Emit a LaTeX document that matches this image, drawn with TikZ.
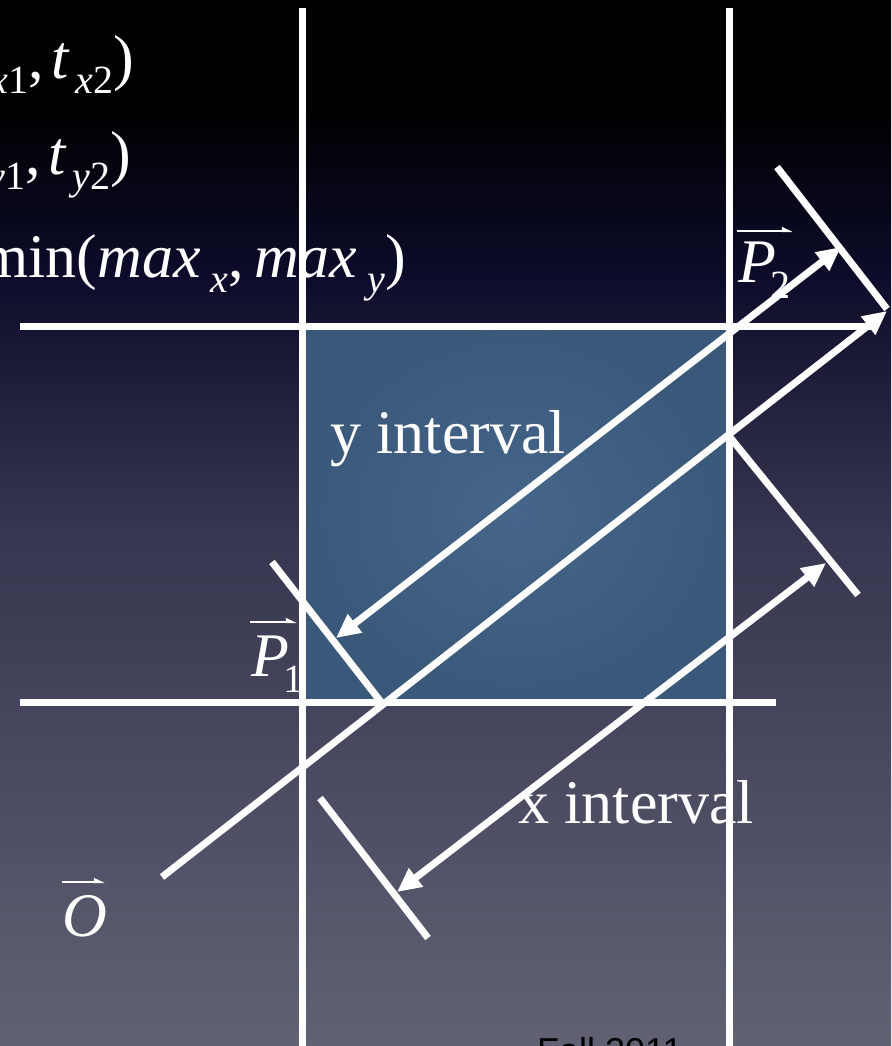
\documentclass[tikz,border=0pt]{standalone}
\usepackage{fontspec}
\setmainfont{Liberation Serif}
\newfontfamily\labelsans{Liberation Sans}
\usetikzlibrary{arrows.meta}
\definecolor{bgbot}{HTML}{606274}
\definecolor{bgmid}{HTML}{35354F}
\definecolor{bgnavy}{HTML}{0C0C2A}
\definecolor{boxin}{HTML}{45668A}
\definecolor{boxout}{HTML}{3A587A}
% TikZ maps the 25bp..75bp band of a shading onto the path
\pgfdeclareverticalshading{bgshade}{100bp}{color(0bp)=(bgbot); color(25bp)=(bgbot); color(50bp)=(bgmid); color(62bp)=(bgnavy); color(70bp)=(black); color(100bp)=(black)}
\newcommand\mysub[1]{\hspace{5pt}\raisebox{-15pt}{\fontsize{40}{40}\selectfont #1}}
\newcommand\mysubw[1]{\hspace{10pt}\raisebox{-15pt}{\fontsize{40}{40}\selectfont #1}}
\newcommand\vsub[1]{\hspace{-6pt}\raisebox{-16pt}{\fontsize{40}{40}\selectfont #1}}
\tikzset{
  wline/.style={draw=white, line width=7pt},
  warrow/.style={wline, -{Triangle[length=24pt,width=22pt]}},
  wdarrow/.style={wline, {Triangle[length=24pt,width=22pt]}-{Triangle[length=24pt,width=22pt]}},
  lbl/.style={text=white, inner sep=0pt, font=\fontsize{62}{70}\selectfont},
  vecarrow/.style={draw=white, line width=2pt, -{Triangle[length=9pt,width=8pt,left]}},
  foot/.style={text=black, inner sep=0pt, font=\labelsans\fontsize{36}{40}\selectfont}
}
\begin{document}
\begin{tikzpicture}[x=1pt,y=-1pt]
\useasboundingbox (0,0) rectangle (891,1046);
\clip (0,0) rectangle (891,1046);
\shade[shading=bgshade] (0,0) rectangle (891,1046);
\shade[inner color=boxin, outer color=boxout] (303,326) rectangle (729,702);

% coordinates
\coordinate (vLtop) at (302,8);   \coordinate (vLbot) at (302,1050);
\coordinate (vRtop) at (729,8);   \coordinate (vRbot) at (729,1050);
\coordinate (hTl) at (20,326);    \coordinate (hTr) at (875,326);
\coordinate (hBl) at (20,702);    \coordinate (hBr) at (776,702);
\coordinate (ostart) at (162,877); \coordinate (oend) at (887,311);
\coordinate (p1tip) at (336,638); \coordinate (p2tip) at (841,247);
\coordinate (xa) at (397,892);    \coordinate (xb) at (826,563);
\coordinate (q1a) at (777,167);   \coordinate (q1b) at (887,309);
\coordinate (q2a) at (272,562);   \coordinate (q2b) at (381,702);
\coordinate (q3a) at (729,436);   \coordinate (q3b) at (858,595);
\coordinate (q4a) at (320,798);   \coordinate (q4b) at (428,938);

% grid lines
\draw[wline] (vLtop) -- (vLbot);
\draw[wline] (vRtop) -- (vRbot);
\draw[wline] (hTl) -- (hTr);
\draw[wline] (hBl) -- (hBr);

% perpendicular ticks
\draw[wline] (q1a) -- (q1b);
\draw[wline] (q2a) -- (q2b);
\draw[wline] (q3a) -- (q3b);
\draw[wline] (q4a) -- (q4b);

% ray and interval arrows
\draw[warrow] (ostart) -- (oend);
\draw[wdarrow] (p1tip) -- (p2tip);
\draw[wdarrow] (xa) -- (xb);

% formula lines (clipped at left edge, as in the reference)
\node[lbl, anchor=base east] (f1) at (134,79) {(\textit{t}\mysub{\textit{x}1},\hspace{8pt}\textit{t}\mysub{\textit{x}2})};
\node[lbl, anchor=base east] (f2) at (131,174) {(\textit{t}\mysub{\textit{y}1},\hspace{8pt}\textit{t}\mysub{\textit{y}2})};
\node[lbl, anchor=base east] (f3) at (406,277) {min(\textit{max}\mysubw{\textit{x}},\hspace{10pt}\textit{max}\mysubw{\textit{y}})};

% interval labels
\node[lbl, anchor=base west] (yint) at (330,453) {y interval};
\node[lbl, anchor=base west] (xint) at (518,823) {x interval};

% vector labels
\node[lbl, anchor=base west] (P2) at (738,282) {\textit{P}\vsub{2}};
\coordinate (p2va) at (737,231); \coordinate (p2vb) at (793,231);
\draw[vecarrow] (p2va) -- (p2vb);
\node[lbl, anchor=base west] (P1) at (251,676) {\textit{P}\vsub{1}};
\coordinate (p1va) at (250,622); \coordinate (p1vb) at (297,622);
\draw[vecarrow] (p1va) -- (p1vb);
\node[lbl, anchor=base west] (O) at (62,936) {\textit{O}};
\coordinate (ova) at (62,882); \coordinate (ovb) at (105,882);
\draw[vecarrow] (ova) -- (ovb);

% footer
\node[foot, anchor=north west] (fall) at (537,1037) {Fall 2011};
\end{tikzpicture}
\end{document}
